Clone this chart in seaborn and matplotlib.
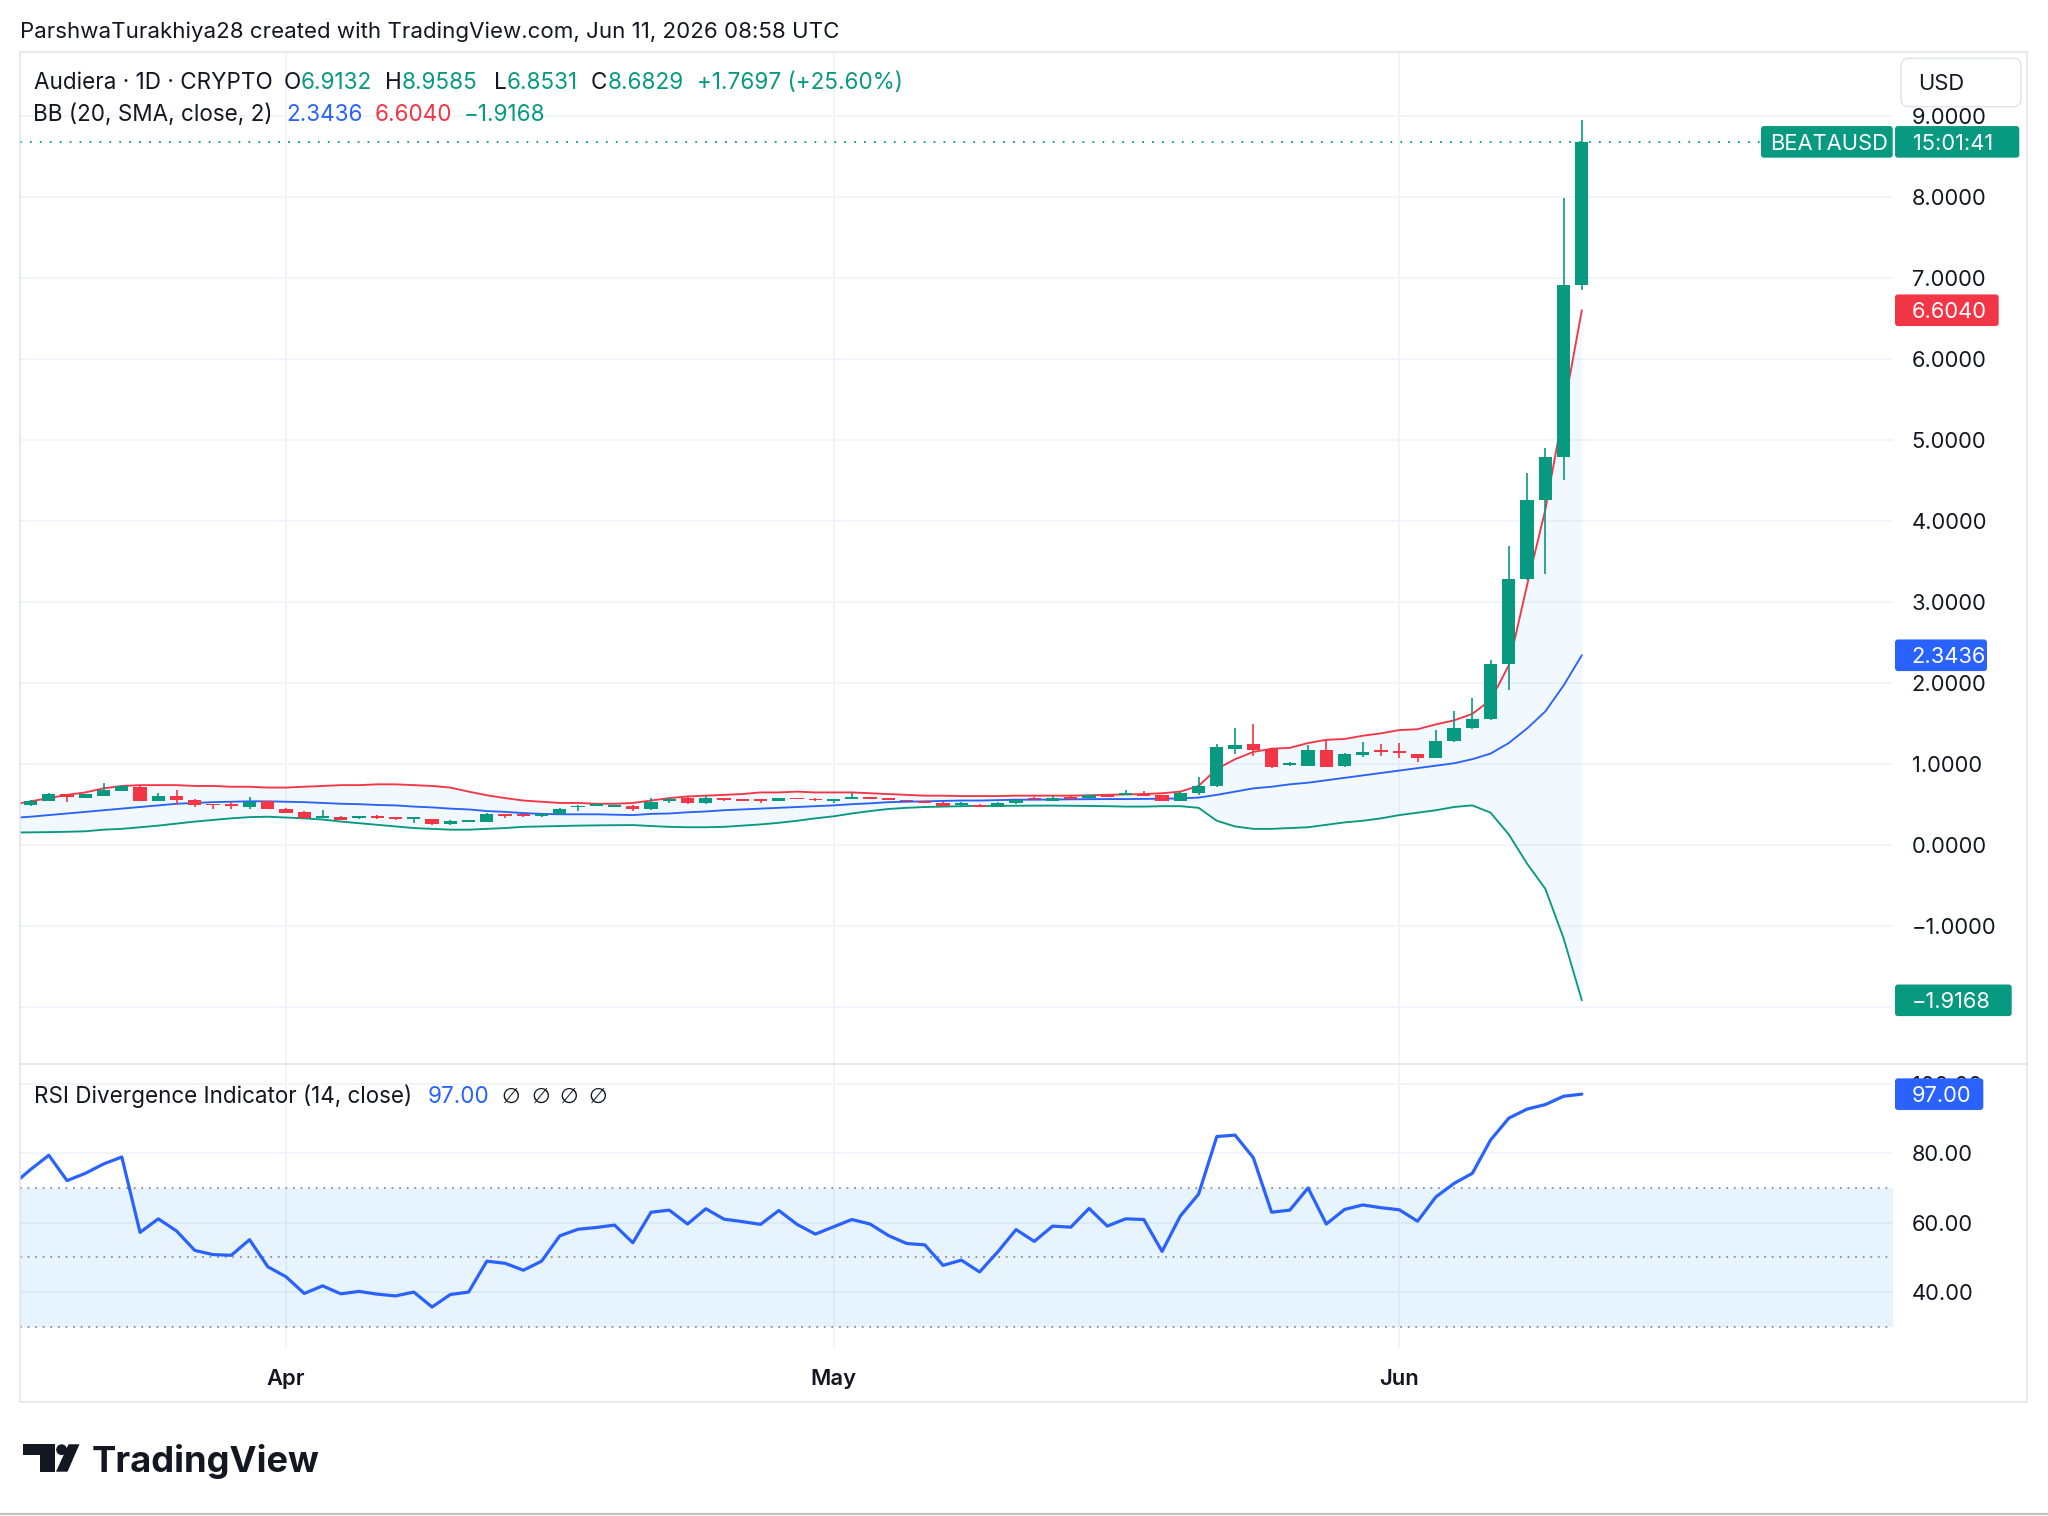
import numpy as np
import pandas as pd
import matplotlib
matplotlib.use("Agg")
import matplotlib.pyplot as plt
import matplotlib.dates as mdates
from matplotlib.patches import FancyBboxPatch, Rectangle, Polygon, Circle
import seaborn as sns

# ---------------- data ----------------
dates = pd.date_range("2026-03-17", "2026-06-11", freq="D")

opens = [0.47, 0.49, 0.55, 0.63, 0.58, 0.61, 0.67, 0.72, 0.54, 0.61, 0.56,
         0.505, 0.495, 0.475, 0.54, 0.45, 0.41, 0.345, 0.35, 0.34, 0.345,
         0.34, 0.33, 0.32, 0.255, 0.29, 0.29, 0.38, 0.375, 0.365, 0.38,
         0.47, 0.49, 0.48, 0.485, 0.44, 0.555, 0.575, 0.515, 0.575, 0.56,
         0.56, 0.545, 0.58, 0.57, 0.55, 0.58, 0.59, 0.575, 0.555, 0.535,
         0.525, 0.50, 0.50, 0.475, 0.515, 0.585, 0.545, 0.597, 0.576, 0.625,
         0.625, 0.635, 0.617, 0.55, 0.645, 0.73, 1.19, 1.25, 1.19, 0.99,
         0.98, 1.17, 0.98, 1.11, 1.165, 1.155, 1.12, 1.08, 1.28, 1.44,
         1.56, 2.23, 3.28, 4.26, 4.79, 6.9132]
highs = [0.50, 0.56, 0.64, 0.635, 0.63, 0.77, 0.74, 0.73, 0.64, 0.68, 0.565,
         0.505, 0.53, 0.59, 0.545, 0.46, 0.415, 0.43, 0.355, 0.35, 0.37,
         0.35, 0.34, 0.325, 0.305, 0.31, 0.40, 0.385, 0.38, 0.38, 0.46,
         0.50, 0.52, 0.50, 0.49, 0.58, 0.575, 0.605, 0.605, 0.58, 0.565,
         0.565, 0.58, 0.585, 0.575, 0.565, 0.64, 0.595, 0.58, 0.56, 0.54,
         0.53, 0.535, 0.505, 0.535, 0.56, 0.59, 0.60, 0.60, 0.62, 0.63,
         0.68, 0.67, 0.62, 0.65, 0.84, 1.25, 1.44, 1.49, 1.20, 1.03,
         1.24, 1.30, 1.14, 1.27, 1.25, 1.26, 1.13, 1.42, 1.65, 1.81,
         2.29, 3.69, 4.59, 4.90, 7.99, 8.9585]
lows = [0.46, 0.48, 0.545, 0.53, 0.575, 0.605, 0.665, 0.54, 0.54, 0.50, 0.47,
        0.45, 0.44, 0.44, 0.44, 0.395, 0.325, 0.33, 0.305, 0.32, 0.32,
        0.31, 0.27, 0.25, 0.25, 0.28, 0.28, 0.34, 0.35, 0.35, 0.375,
        0.42, 0.485, 0.475, 0.42, 0.435, 0.515, 0.51, 0.51, 0.54, 0.55,
        0.515, 0.54, 0.565, 0.55, 0.52, 0.575, 0.575, 0.56, 0.54, 0.52,
        0.48, 0.47, 0.465, 0.47, 0.51, 0.56, 0.54, 0.57, 0.57, 0.59,
        0.62, 0.60, 0.545, 0.545, 0.617, 0.72, 1.12, 1.10, 0.95, 0.975,
        0.975, 0.96, 0.96, 1.09, 1.10, 1.08, 1.03, 1.07, 1.27, 1.43,
        1.55, 1.92, 3.27, 3.35, 4.51, 6.8531]
closes = [0.49, 0.55, 0.63, 0.59, 0.625, 0.68, 0.73, 0.54, 0.605, 0.56, 0.50,
          0.495, 0.485, 0.535, 0.445, 0.40, 0.33, 0.355, 0.31, 0.345, 0.34,
          0.33, 0.335, 0.255, 0.30, 0.30, 0.38, 0.37, 0.365, 0.375, 0.445,
          0.48, 0.495, 0.49, 0.44, 0.535, 0.56, 0.515, 0.585, 0.565, 0.555,
          0.55, 0.576, 0.57, 0.555, 0.56, 0.59, 0.58, 0.565, 0.545, 0.525,
          0.485, 0.51, 0.47, 0.515, 0.555, 0.565, 0.585, 0.572, 0.617, 0.597,
          0.635, 0.605, 0.55, 0.645, 0.728, 1.21, 1.23, 1.17, 0.96, 1.01,
          1.17, 0.97, 1.12, 1.15, 1.155, 1.145, 1.08, 1.28, 1.44, 1.56,
          2.23, 3.28, 4.26, 4.79, 6.9132, 8.6829]

bb_upper = [0.50, 0.54, 0.58, 0.62, 0.65, 0.70, 0.73, 0.74, 0.74, 0.74, 0.73,
            0.73, 0.72, 0.72, 0.71, 0.71, 0.72, 0.73, 0.74, 0.74, 0.75,
            0.75, 0.74, 0.73, 0.71, 0.66, 0.615, 0.58, 0.55, 0.535, 0.52,
            0.52, 0.51, 0.51, 0.52, 0.55, 0.58, 0.60, 0.61, 0.62, 0.63,
            0.65, 0.65, 0.66, 0.65, 0.65, 0.65, 0.64, 0.63, 0.62, 0.61,
            0.61, 0.605, 0.605, 0.605, 0.61, 0.61, 0.61, 0.61, 0.615, 0.62,
            0.625, 0.63, 0.64, 0.66, 0.73, 0.94, 1.06, 1.15, 1.19, 1.20,
            1.26, 1.30, 1.31, 1.35, 1.38, 1.42, 1.43, 1.49, 1.54, 1.62,
            1.79, 2.22, 3.21, 4.14, 5.37, 6.6040]
bb_basis = [0.335, 0.35, 0.37, 0.39, 0.41, 0.43, 0.45, 0.47, 0.49, 0.51, 0.52,
            0.53, 0.535, 0.54, 0.54, 0.535, 0.53, 0.52, 0.51, 0.505, 0.495,
            0.49, 0.475, 0.465, 0.45, 0.44, 0.42, 0.41, 0.395, 0.385, 0.38,
            0.38, 0.38, 0.375, 0.37, 0.385, 0.39, 0.405, 0.415, 0.43, 0.44,
            0.45, 0.46, 0.47, 0.48, 0.49, 0.505, 0.515, 0.53, 0.535, 0.54,
            0.545, 0.55, 0.55, 0.555, 0.56, 0.56, 0.562, 0.565, 0.567, 0.568,
            0.568, 0.57, 0.572, 0.576, 0.586, 0.62, 0.66, 0.70, 0.72, 0.75,
            0.77, 0.80, 0.83, 0.86, 0.89, 0.92, 0.95, 0.98, 1.01, 1.06,
            1.13, 1.26, 1.44, 1.65, 1.97, 2.3436]
bb_lower = [0.155, 0.157, 0.16, 0.164, 0.17, 0.19, 0.20, 0.22, 0.24, 0.265, 0.29,
            0.31, 0.33, 0.345, 0.35, 0.34, 0.33, 0.315, 0.29, 0.27, 0.25,
            0.23, 0.21, 0.20, 0.19, 0.19, 0.20, 0.21, 0.225, 0.23, 0.235,
            0.24, 0.243, 0.245, 0.247, 0.235, 0.225, 0.22, 0.22, 0.225, 0.24,
            0.255, 0.275, 0.30, 0.33, 0.355, 0.39, 0.42, 0.445, 0.46, 0.47,
            0.475, 0.48, 0.483, 0.485, 0.485, 0.487, 0.487, 0.485, 0.483, 0.48,
            0.475, 0.475, 0.48, 0.48, 0.46, 0.30, 0.23, 0.20, 0.20, 0.21,
            0.22, 0.25, 0.28, 0.30, 0.33, 0.37, 0.40, 0.43, 0.47, 0.49,
            0.40, 0.13, -0.23, -0.54, -1.15, -1.9168]
rsi = [70.8, 75.3, 79.4, 72.1, 74.2, 76.9, 78.9, 57.2, 61.1, 57.6, 52.0,
       50.8, 50.6, 55.1, 47.3, 44.4, 39.6, 41.8, 39.5, 40.2, 39.4,
       38.9, 40.0, 35.7, 39.3, 40.0, 48.9, 48.3, 46.3, 48.9, 56.2,
       58.1, 58.6, 59.3, 54.2, 63.0, 63.6, 59.6, 64.0, 61.0, 60.3,
       59.5, 63.5, 59.5, 56.7, 58.8, 60.9, 59.6, 56.3, 54.0, 53.6,
       47.7, 49.2, 45.8, 51.6, 58.0, 54.6, 59.0, 58.7, 64.1, 59.0,
       61.1, 60.9, 51.7, 61.9, 68.2, 84.8, 85.2, 78.7, 63.0, 63.6,
       70.0, 59.6, 63.8, 65.1, 64.3, 63.7, 60.4, 67.4, 71.3, 74.2,
       83.8, 90.1, 92.7, 94.0, 96.4, 97.0]

month_ticks = ["2026-04-01", "2026-05-01", "2026-06-01"]
month_labels = ["Apr", "May", "Jun"]
price_grid = [-2, -1, 0, 1, 2, 3, 4, 5, 6, 7, 8, 9]
price_labels = [9, 8, 7, 6, 5, 4, 3, 2, 1, 0, -1]
rsi_grid = [40, 60, 80, 100]
rsi_levels = [70, 50, 30]

for arr in (opens, highs, lows, closes, bb_upper, bb_basis, bb_lower, rsi):
    assert len(arr) == len(dates), len(arr)

# ---------------- style ----------------
sns.set_theme(style="white")
plt.rcParams["font.family"] = ["Inter", "DejaVu Sans"]
plt.rcParams["axes.unicode_minus"] = True

GREEN, RED, BLUE, DARK = "#089981", "#f23645", "#2962ff", "#131722"
GRID, BORDER = "#f0f3fa", "#e0e3eb"

W, H, DPI = 2048, 1516, 100
fig = plt.figure(figsize=(W / DPI, H / DPI), dpi=DPI, facecolor="white")

LEFT, RIGHT = 19.6, 1893.0
TOP, MID, BOT = 52.2, 1064.3, 1348.0


def rect(top, bottom):
    return [LEFT / W, 1 - bottom / H, (RIGHT - LEFT) / W, (bottom - top) / H]


ax = fig.add_axes(rect(TOP, MID))
axr = fig.add_axes(rect(MID, BOT), sharex=ax)
ov = fig.add_axes([0, 0, 1, 1], zorder=10)
ov.set_xlim(0, W)
ov.set_ylim(H, 0)
ov.axis("off")

x = mdates.date2num(dates)
first = mdates.date2num(pd.Timestamp("2026-03-18"))
month_x = mdates.date2num(pd.to_datetime(month_ticks))

for a in (ax, axr):
    a.set_facecolor("white")
    for s in a.spines.values():
        s.set_visible(False)
    a.set_xticks(month_x)
    a.tick_params(left=False, bottom=False, right=False,
                  labelleft=False, labelbottom=False)
    a.grid(True, color=GRID, lw=1.3)
    a.set_axisbelow(True)
ax.set_yticks(price_grid)
axr.set_yticks(rsi_grid)

# ---------------- price pane ----------------
ax.fill_between(x, bb_lower, bb_upper, color="#2196f3", alpha=0.055, lw=0, zorder=1)
sns.lineplot(x=x, y=bb_upper, ax=ax, color=RED, lw=1.35, zorder=2, legend=False)
sns.lineplot(x=x, y=bb_basis, ax=ax, color=BLUE, lw=1.35, zorder=2, legend=False)
sns.lineplot(x=x, y=bb_lower, ax=ax, color=GREEN, lw=1.35, zorder=2, legend=False)

o = np.array(opens); c = np.array(closes)
hi = np.array(highs); lo = np.array(lows)
cols = np.where(c >= o, GREEN, RED)
mid = (o + c) / 2
body_h = np.maximum(np.abs(c - o), 0.022)
ax.vlines(x, lo, hi, colors=cols, lw=1.2, zorder=4)
ax.bar(x, body_h, bottom=mid - body_h / 2, width=0.73, color=cols, lw=0, zorder=5)
ax.axhline(closes[-1], color=GREEN, lw=1.3, ls=(0, (1, 4.5)), zorder=3)

# ---------------- RSI pane ----------------
axr.axhspan(30, 70, color="#2196f3", alpha=0.1, lw=0, zorder=0.6)
for lv in rsi_levels:
    axr.axhline(lv, color="#8c8f99", lw=1.3, ls=(0, (1, 3.2)), zorder=1)
sns.lineplot(x=x, y=rsi, ax=axr, color=BLUE, lw=2.3, zorder=5, legend=False)

for a in (ax, axr):
    a.set_xlabel("")
    a.set_ylabel("")
ax.set_xlim(first - 0.6, first + 102.05)
ax.set_ylim(-2.707, 9.79)
axr.set_ylim(23.9, 105.6)

# ---------------- overlay text / labels ----------------
renderer = fig.canvas.get_renderer()


def px_y(a, v):
    return H - a.transData.transform((first, v))[1]


def px_x(xv):
    return ax.transData.transform((xv, 0))[0]


def cap(size):
    return 0.727 * size * DPI / 72


def txt(xp, yb, s, color=DARK, size=14.3, weight="normal", ha="left", z=5, family=None):
    kw = dict(color=color, fontsize=size, fontweight=weight, ha=ha, va="baseline", zorder=z)
    if family:
        kw["family"] = family
    return ov.text(xp, yb, s, **kw)


def width_of(s, size, weight="normal"):
    t = ov.text(0, 0, s, fontsize=size, fontweight=weight)
    w = t.get_window_extent(renderer).width
    t.remove()
    return w


def fit_size(s, target, weight="normal", base=14.0):
    return base * target / width_of(s, base, weight)


def seq(xp, yc, parts, size):
    yb = yc + cap(size) / 2
    for s, col in parts:
        t = txt(xp, yb, s, color=col, size=size)
        xp += t.get_window_extent(renderer).width
    return xp


def fmt(v, n=4):
    return f"{v:.{n}f}".replace("-", "\u2212")


HEAD_TXT = "ParshwaTurakhiya28 created with TradingView.com, Jun 11, 2026 08:58 UTC"
HEAD_FS = fit_size(HEAD_TXT, 816.0)
LEG_FS = fit_size("Audiera \u00b7 1D \u00b7 CRYPTO", 238.0)
RSI_FS = fit_size("RSI Divergence Indicator (14, close)", 379.0)
AX_FS = fit_size("8.0000", 75.0)
MON_FS = fit_size("Apr", 38.3, weight="semibold")

# price axis labels
for v in price_labels:
    yc = px_y(ax, v)
    txt(1911.7, yc + cap(AX_FS) / 2, fmt(v), size=AX_FS, z=2)
# rsi axis labels
for v in rsi_grid:
    yc = px_y(axr, v)
    txt(1911.7, yc + cap(AX_FS) / 2, fmt(v, 2), size=AX_FS, z=2)
# month labels
for mx, ml in zip(month_x, month_labels):
    txt(px_x(mx), 1377.0 + cap(MON_FS) / 2, ml, size=MON_FS, weight="semibold", ha="center")


def vbox(x0, x1, yc, color, s, tx, h=31.6, z=6):
    ov.add_patch(FancyBboxPatch((x0, yc - h / 2), x1 - x0, h,
                                boxstyle="round,pad=0,rounding_size=3",
                                fc=color, ec="none", zorder=z))
    txt(tx, yc + cap(AX_FS) / 2, s, color="white", size=AX_FS, z=z + 1)


y_last = px_y(ax, closes[-1])
vbox(1761, 1892.7, y_last, GREEN, "BEATAUSD", 1770)
vbox(1895, 2019.3, y_last, GREEN, "15:01:41", 1912.7)
vbox(1895, 1998.7, px_y(ax, bb_upper[-1]), RED, fmt(bb_upper[-1]), 1911.7)
vbox(1895, 1987.0, px_y(ax, bb_basis[-1]), BLUE, fmt(bb_basis[-1]), 1911.7)
vbox(1895, 2011.7, px_y(ax, bb_lower[-1]), GREEN, fmt(bb_lower[-1]), 1911.7)
vbox(1895, 1983.3, px_y(axr, rsi[-1]), BLUE, fmt(rsi[-1], 2), 1911.7)

# USD box
ov.add_patch(FancyBboxPatch((1901, 58.3), 120, 48.4,
                            boxstyle="round,pad=0,rounding_size=8",
                            fc="white", ec=BORDER, lw=1.0, zorder=8))
txt(1918.3, 82.5 + cap(AX_FS) / 2, "USD", size=AX_FS, z=9)

# frame and separator
ov.add_patch(Rectangle((LEFT, TOP), 2027 - LEFT, 1401.7 - TOP, fc="none",
                       ec=BORDER, lw=1.1, zorder=1))
ov.plot([LEFT, 2027], [MID, MID], color=BORDER, lw=1.1, zorder=1)
ov.plot([0, W], [1513.5, 1513.5], color="#c4c4c4", lw=1.6, zorder=1)

# header
seq(19.6, 29.5, [(HEAD_TXT, DARK)], HEAD_FS)

# legend line 1
chg = closes[-1] - closes[-2]
pct = chg / closes[-2] * 100
Y1, Y2, Y3 = 80.5, 112.8, 1095.0
seq(34, Y1, [("Audiera \u00b7 1D \u00b7 CRYPTO", DARK)], LEG_FS)
seq(283.6, Y1, [("O", DARK), (fmt(opens[-1]), GREEN)], LEG_FS)
seq(384.8, Y1, [("H", DARK), (fmt(highs[-1]), GREEN)], LEG_FS)
seq(494.0, Y1, [("L", DARK), (fmt(lows[-1]), GREEN)], LEG_FS)
seq(591.0, Y1, [("C", DARK), (fmt(closes[-1]), GREEN)], LEG_FS)
seq(697.0, Y1, [(f"+{chg:.4f} (+{pct:.2f}%)", GREEN)], LEG_FS)
# legend line 2
seq(33.3, Y2, [("BB (20, SMA, close, 2)", DARK)], LEG_FS)
seq(286.0, Y2, [(fmt(bb_basis[-1]), BLUE)], LEG_FS)
seq(374.5, Y2, [(fmt(bb_upper[-1]), RED)], LEG_FS)
seq(463.6, Y2, [(fmt(bb_lower[-1]), GREEN)], LEG_FS)
# RSI legend
seq(34, Y3, [("RSI Divergence Indicator (14, close)", DARK)], RSI_FS)
seq(427.8, Y3, [(fmt(rsi[-1], 2), BLUE)], RSI_FS)
for xp in (501, 531, 559.6, 588.4):
    txt(xp, Y3 + cap(RSI_FS) / 2, "\u2205", size=RSI_FS * 0.95, family=["DejaVu Sans"])

# TradingView logo
ov.add_patch(Polygon([(22.7, 1444.3), (55, 1444.3), (55, 1471.7), (39.5, 1471.7),
                      (39.5, 1454.6), (22.7, 1454.6)], closed=True, fc=DARK, ec="none"))
ov.add_patch(Circle((61.6, 1449.7), 5.4, fc=DARK, ec="none"))
ov.add_patch(Polygon([(68.5, 1444.3), (79.5, 1444.3), (67.5, 1471.7), (56, 1471.7)],
                     closed=True, fc=DARK, ec="none"))
LOGO_FS = fit_size("TradingView", 228.0, weight="bold", base=27)
txt(91.7, 1471.7, "TradingView", size=LOGO_FS, weight="bold")

fig.savefig("out.png", dpi=DPI, facecolor="white")
